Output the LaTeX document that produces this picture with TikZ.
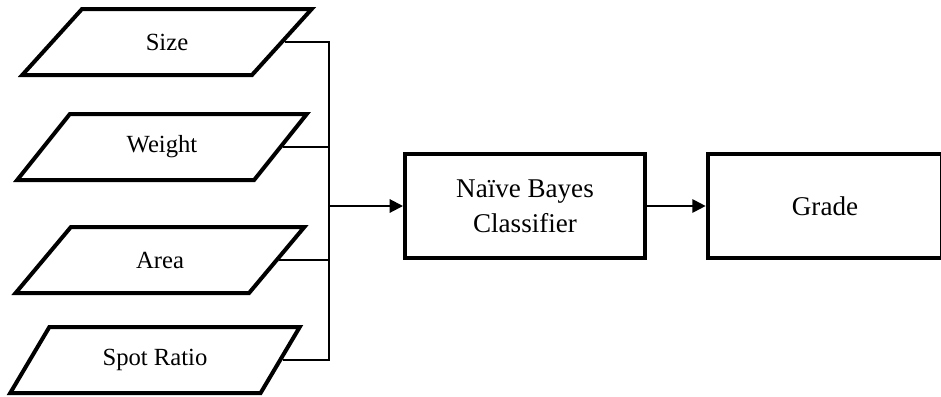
\documentclass[tikz,border=0pt]{standalone}
\usepackage{fontspec}
\setmainfont{Liberation Serif}
\usetikzlibrary{shapes.geometric,arrows.meta}

\tikzset{
  inputbox/.style={
    trapezium, draw, line width=3pt,
    trapezium left angle=48, trapezium right angle=132,
    trapezium stretches=true,
    minimum width=217.5pt, minimum height=49.5pt,
    inner sep=0pt, font=\fontsize{18.5}{24}\selectfont
  },
  procbox/.style={
    rectangle, draw, line width=3pt,
    minimum height=78pt, inner sep=0pt, align=center,
    font=\fontsize{20.3}{26}\selectfont
  },
  bus/.style={line width=1.5pt},
  flow/.style={line width=1.5pt, -{Triangle[length=10pt,width=10pt]}}
}

\begin{document}
\begin{tikzpicture}[x=0.75pt, y=-0.75pt]
  \useasboundingbox (0,0) rectangle (941,396);
  \clip (0,0) rectangle (941,396);

  % feature inputs
  \node[inputbox] (size)   at (167,42)  {Size};
  \node[inputbox] (weight) at (162,147) {Weight};
  \node[inputbox] (area)   at (160,260) {Area};
  \node[inputbox] (spot)   at (155,360) {Spot Ratio};

  % processing stages
  \node[procbox, minimum width=180pt] (nb)    at (525,206) {Naïve Bayes\\Classifier};
  \node[procbox, minimum width=176pt] (grade) at (825,206) {Grade};

  % collecting bus
  \coordinate (busx) at (329,0);
  \draw[bus] (size.east) -- (size.east -| busx) -- (spot.east -| busx) -- (spot.east);
  \draw[bus] (weight.east) -- (weight.east -| busx);
  \draw[bus] (area.east) -- (area.east -| busx);

  % flow arrows
  \draw[flow] (nb.west -| busx) -- (nb.west);
  \draw[flow] (nb.east) -- (grade.west);
\end{tikzpicture}
\end{document}
